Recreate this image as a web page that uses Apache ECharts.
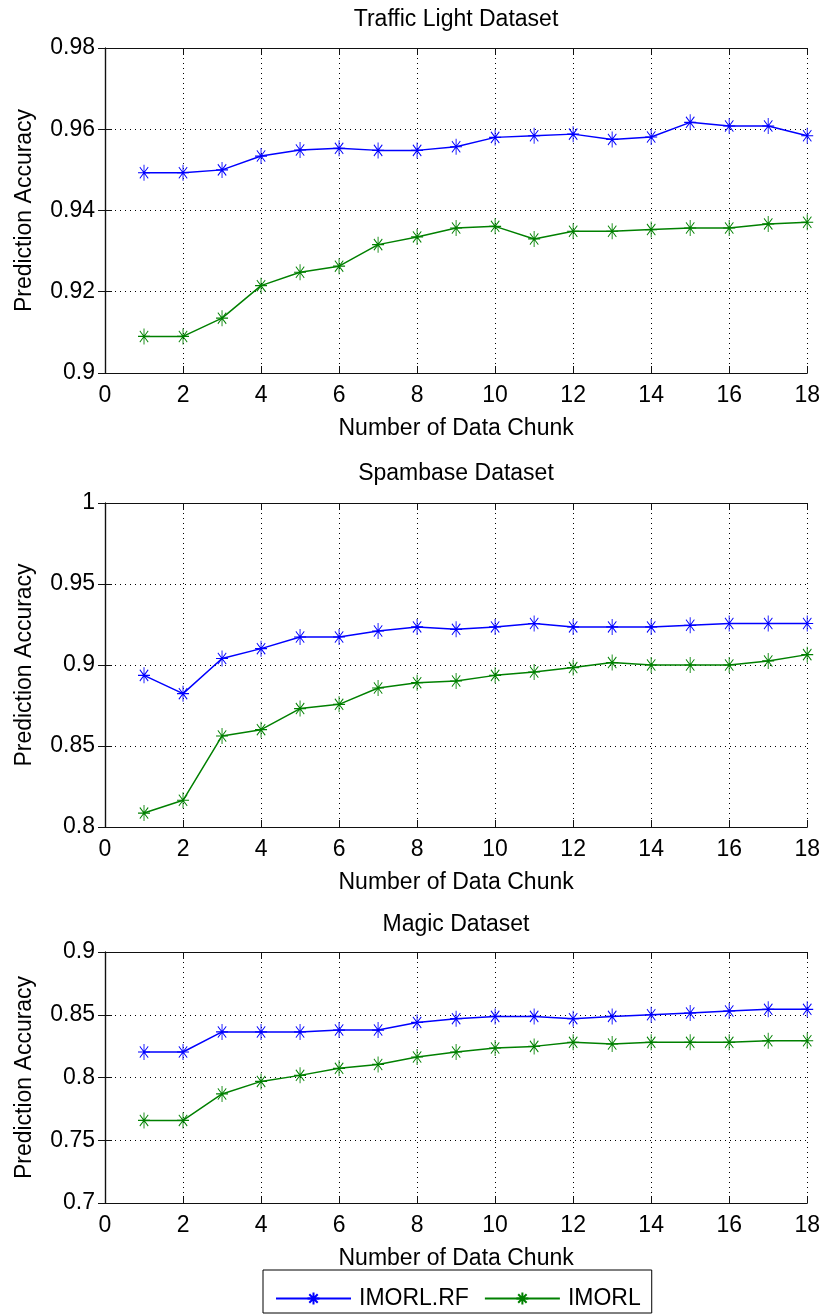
<!DOCTYPE html>
<html>
<head>
<meta charset="utf-8">
<script src="https://cdn.jsdelivr.net/npm/echarts@6/dist/echarts.min.js"></script>
<style>
  html, body { margin: 0; padding: 0; background: #fff; }
  #main { width: 823px; height: 1316px; }
</style>
</head>
<body>
<div id="main"></div>
<script>
// data
const chunks = [1, 2, 3, 4, 5, 6, 7, 8, 9, 10, 11, 12, 13, 14, 15, 16, 17, 18];
const xTicks = [0, 2, 4, 6, 8, 10, 12, 14, 16, 18];

const trafficTicks = [0.9, 0.92, 0.94, 0.96, 0.98];
const trafficRF = [0.9493, 0.9493, 0.9500, 0.9534, 0.9549, 0.9553, 0.9548, 0.9548, 0.9557, 0.9580,
  0.9584, 0.9588, 0.9575, 0.9581, 0.9617, 0.9608, 0.9608, 0.9584];
const trafficBase = [0.9090, 0.9090, 0.9135, 0.9215, 0.9248, 0.9263, 0.9316, 0.9335, 0.9357, 0.9361,
  0.9330, 0.9349, 0.9349, 0.9353, 0.9357, 0.9357, 0.9367, 0.9371];

const spamTicks = [0.8, 0.85, 0.9, 0.95, 1];
const spamRF = [0.8936, 0.8823, 0.9040, 0.9101, 0.9173, 0.9173, 0.9210, 0.9235, 0.9220, 0.9235,
  0.9256, 0.9235, 0.9235, 0.9235, 0.9245, 0.9256, 0.9256, 0.9256];
const spamBase = [0.8086, 0.8165, 0.8562, 0.8601, 0.8731, 0.8757, 0.8858, 0.8891, 0.8901, 0.8936,
  0.8957, 0.8984, 0.9015, 0.9000, 0.9000, 0.9000, 0.9025, 0.9064];

const magicTicks = [0.7, 0.75, 0.8, 0.85, 0.9];
const magicRF = [0.8203, 0.8203, 0.8363, 0.8363, 0.8363, 0.8378, 0.8378, 0.8439, 0.8469, 0.8487,
  0.8487, 0.8469, 0.8487, 0.8500, 0.8514, 0.8530, 0.8543, 0.8543];
const magicBase = [0.7658, 0.7658, 0.7869, 0.7969, 0.8017, 0.8073, 0.8104, 0.8163, 0.8203, 0.8235,
  0.8248, 0.8280, 0.8267, 0.8280, 0.8280, 0.8280, 0.8293, 0.8293];

const titles = ['Traffic Light Dataset', 'Spambase Dataset', 'Magic Dataset'];
const seriesNames = ['IMORL.RF', 'IMORL'];

const FONT = "'Liberation Sans', Arial, sans-serif";
const FS = 23;
const star = 'path://M10 0 L10 20 M0 10 L20 10 M3 3 L17 17 M3 17 L17 3';
const panels = [
  { ticks: trafficTicks, rf: trafficRF, base: trafficBase, top: 48, height: 325 },
  { ticks: spamTicks, rf: spamRF, base: spamBase, top: 503, height: 324 },
  { ticks: magicTicks, rf: magicRF, base: magicBase, top: 952, height: 251 }
];
const colors = ['#0000ff', '#008000'];

const grid = [], xAxis = [], yAxis = [], series = [], graphic = [];
const axisLine = { show: true, lineStyle: { color: '#111', width: 1.2 } };
const tick = { show: true, inside: true, length: 7, lineStyle: { color: '#111' } };
const dotted = { show: true, lineStyle: { color: '#000', type: [1, 4], width: 1 } };

panels.forEach((p, i) => {
  grid.push({ left: 105, right: 15, top: p.top, height: p.height });
  const step = Math.round((p.ticks[1] - p.ticks[0]) * 1000) / 1000;
  // bottom and top x axes
  xAxis.push({
    type: 'value', gridIndex: i, min: xTicks[0], max: xTicks[xTicks.length - 1],
    interval: xTicks[1] - xTicks[0],
    name: 'Number of Data Chunk', nameLocation: 'middle', nameGap: 44,
    nameTextStyle: { fontFamily: FONT, fontSize: FS, color: '#000' },
    axisLine, axisTick: tick,
    axisLabel: { fontFamily: FONT, fontSize: FS, color: '#000', margin: 11 },
    splitLine: dotted
  });
  xAxis.push({
    type: 'value', gridIndex: i, position: 'top', min: xTicks[0], max: xTicks[xTicks.length - 1],
    interval: xTicks[1] - xTicks[0], axisLine, axisTick: tick,
    axisLabel: { show: false }, splitLine: { show: false }
  });
  yAxis.push({
    type: 'value', gridIndex: i, min: p.ticks[0], max: p.ticks[p.ticks.length - 1], interval: step,
    name: 'Prediction Accuracy', nameLocation: 'middle', nameGap: 69,
    nameTextStyle: { fontFamily: FONT, fontSize: FS, color: '#000' },
    axisLine, axisTick: tick,
    axisLabel: { fontFamily: FONT, fontSize: FS, color: '#000', margin: 10 },
    splitLine: dotted
  });
  yAxis.push({
    type: 'value', gridIndex: i, position: 'right', min: p.ticks[0], max: p.ticks[p.ticks.length - 1],
    interval: step, axisLine, axisTick: tick,
    axisLabel: { show: false }, splitLine: { show: false }
  });
  [p.rf, p.base].forEach((vals, k) => {
    series.push({
      name: seriesNames[k], type: 'line', xAxisIndex: 2 * i, yAxisIndex: 2 * i,
      data: chunks.map((c, j) => [c, vals[j]]),
      symbol: star, symbolSize: [12, 16], showAllSymbol: true,
      lineStyle: { color: colors[k], width: 1.5 },
      itemStyle: { color: colors[k], borderColor: colors[k], borderWidth: 1 },
      emphasis: { disabled: true }
    });
  });
  graphic.push({
    type: 'text', x: 456, y: [20, 474, 925][i],
    style: { text: titles[i], font: FS + 'px ' + FONT, fill: '#000', textAlign: 'center', textVerticalAlign: 'middle' }
  });
});

const chart = echarts.init(document.getElementById('main'));
chart.setOption({
  backgroundColor: '#fff',
  animation: false,
  grid, xAxis, yAxis, series, graphic,
  legend: {
    data: seriesNames, left: 263, top: 1270,
    padding: [17, 11, 3, 12],
    borderColor: '#000', borderWidth: 1,
    itemWidth: 75, itemHeight: 15, itemGap: 15,
    textStyle: { fontFamily: FONT, fontSize: FS, color: '#000', padding: [0, 0, 0, 3] }
  }
});
</script>
</body>
</html>
